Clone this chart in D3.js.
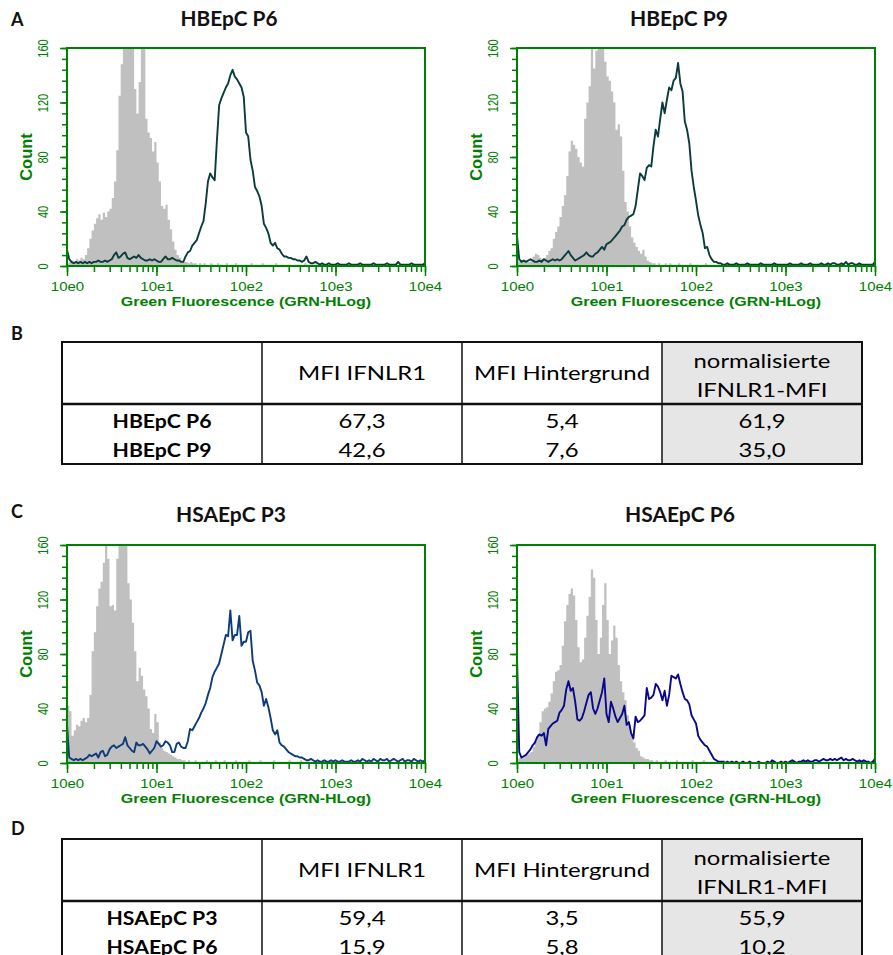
<!DOCTYPE html>
<html>
<head>
<meta charset="utf-8">
<script src="https://cdn.jsdelivr.net/npm/d3@7.9.0/dist/d3.min.js"></script>
<style>
  body { margin: 0; background: #fff; }
  svg { display: block; }
</style>
</head>
<body>
<svg id="fig" width="893" height="955"></svg>
<script>
// ---- data ----
// each histogram: counts per channel, channel i sits at 10^(i*channelStep)
const channelStep = 0.025;
const xDecades = [1, 10, 100, 1000, 10000];
const xTickLabels = ['10e0', '10e1', '10e2', '10e3', '10e4'];
const yTickValues = [0, 40, 80, 120, 160];
const yMinorStep = 8;
const panelTitles = ['HBEpC P6', 'HBEpC P9', 'HSAEpC P3', 'HSAEpC P6'];

const hbepcP6Grey = [
  2,3,4,3,5,4,6,5,8,13,20,26,31,35,38,34,39,36,40,42,
  50,62,85,125,148,165,175,180,175,160,130,112,135,168,175,108,98,94,84,91,
  76,62,44,42,45,34,27,18,12,8,6,4,3,3,2,3,2,2,1,2,
  1,2,1,1,2,1,1,2,1,1,1,2,1,1,1,2,1,1,1,1,
  1,1,2,1,1,1,1,2,1,1,1,1,1,2,1,1,1,1,1,1,
  1,1,1,1,1,1,2,1,1,1,1,1,1,1,1,1,0,1,1,0,
  1,0,1,1,0,1,0,1,0,1,1,0,1,0,0,1,0,1,0,0,
  0,1,0,0,1,0,0,0,1,0,0,1,0,0,0,1,0,0,0,0,
  0];
const hbepcP6Line = [
  12,5,3,2,3,2,3,2,3,2,3,2,3,3,4,3,3,4,3,4,
  5,8,10,6,7,9,10,6,5,6,7,6,8,6,5,4,4,5,4,5,
  4,3,3,5,7,5,5,6,5,4,4,3,3,7,10,11,15,17,19,24,
  29,33,46,62,68,65,63,92,118,123,127,131,134,140,144,139,137,134,131,124,
  98,95,78,70,58,55,51,44,31,28,24,17,15,17,13,12,9,7,7,6,
  6,5,5,4,4,3,4,7,3,2,2,3,2,1,2,1,1,2,1,1,
  1,2,1,1,1,1,2,1,1,1,1,2,1,1,1,1,1,2,1,1,
  1,1,1,2,1,1,1,1,3,1,1,1,1,1,2,1,1,1,1,1,
  2];

const hbepcP9Grey = [
  4,3,3,3,4,3,5,7,9,8,6,5,6,8,11,13,20,25,29,36,
  44,52,66,84,92,89,86,80,76,73,108,120,132,168,145,158,172,175,168,150,
  139,136,128,120,100,104,95,70,47,40,29,21,17,14,11,9,12,7,4,3,
  2,2,1,2,1,1,2,1,2,1,1,1,2,1,1,1,1,2,1,1,
  1,1,1,1,2,1,1,1,1,1,0,1,1,0,1,1,0,1,0,1,
  0,1,0,1,0,0,1,0,0,1,0,0,1,0,0,0,1,0,0,0,
  0,0,1,0,0,0,0,1,0,0,0,0,0,1,0,0,0,0,0,0,
  0,0,0,0,1,0,0,0,0,0,0,0,0,0,0,0,0,0,0,0,
  0];
const hbepcP9Line = [
  22,5,3,4,3,4,5,4,3,3,4,3,5,4,3,4,5,4,5,4,
  5,7,9,11,8,6,4,5,6,7,8,10,8,7,7,9,10,12,14,12,
  16,17,18,20,22,24,26,29,30,34,36,37,38,44,56,68,66,63,72,74,
  73,88,100,95,108,120,112,122,131,129,136,138,149,134,128,106,100,90,70,58,
  48,37,30,24,13,14,8,5,3,3,2,2,1,1,2,1,1,1,2,1,
  1,1,1,2,1,1,1,1,1,2,1,1,1,1,1,2,1,1,1,1,
  1,1,2,1,1,1,1,2,1,1,1,2,1,1,1,1,2,1,1,2,
  1,2,2,1,1,2,1,3,1,2,2,1,1,2,1,1,1,1,1,1,
  3];

const hsaepcP3Grey = [
  42,38,20,24,28,27,31,33,30,33,50,82,96,115,128,133,147,168,150,115,
  116,112,150,170,178,172,165,132,120,103,82,60,70,64,54,49,40,25,22,36,
  30,15,11,9,8,7,6,5,4,3,3,2,2,1,2,1,1,2,1,1,
  1,1,2,1,1,1,2,1,1,1,2,1,1,1,1,2,1,1,1,1,
  1,2,1,1,1,1,2,1,1,1,1,1,2,1,1,1,1,1,1,2,
  1,1,1,1,2,1,1,1,1,1,1,1,1,1,2,1,1,1,1,1,
  1,0,1,1,0,1,1,0,1,0,1,1,0,1,0,1,0,1,1,0,
  0,1,0,1,0,1,0,0,1,0,1,0,0,1,0,0,1,0,0,0,
  0];
const hsaepcP3Line = [
  28,4,3,2,3,2,3,2,3,4,6,5,6,7,4,8,9,5,6,10,
  12,13,11,12,13,14,19,13,11,9,8,15,13,13,14,12,10,7,9,11,
  16,14,12,13,16,15,13,8,8,14,15,12,11,11,16,25,24,27,30,33,
  37,40,44,50,55,63,67,70,73,80,87,94,93,112,90,94,94,108,86,89,
  89,96,97,75,68,59,57,52,42,47,41,33,24,21,24,15,13,12,10,8,
  7,6,5,5,4,4,3,2,2,3,2,1,2,1,1,2,1,1,2,1,
  2,1,1,2,1,1,1,2,1,1,2,1,3,2,1,2,1,3,2,1,
  3,2,2,3,1,2,3,2,1,2,3,1,2,2,1,3,2,1,2,1,
  2];

const hsaepcP6Grey = [
  3,4,4,5,6,7,8,12,16,21,30,38,40,41,45,51,60,67,68,72,
  86,104,116,124,128,123,105,85,74,76,92,108,122,142,136,105,80,92,116,132,
  105,80,90,101,92,72,60,52,46,35,28,20,15,11,9,5,4,3,3,2,
  2,1,2,1,1,1,2,1,1,1,1,2,1,1,1,1,1,1,2,1,
  1,1,1,2,1,1,1,1,1,1,1,1,2,1,1,1,1,1,1,1,
  1,0,1,1,0,1,0,1,0,1,0,1,0,0,1,0,1,0,0,1,
  0,1,0,0,1,0,0,1,0,0,0,1,0,0,0,1,0,0,0,0,
  0,0,1,0,0,0,0,1,0,0,0,0,0,0,1,0,0,0,0,0,
  0];
const hsaepcP6Line = [
  78,8,4,5,6,8,10,13,15,19,21,20,22,13,25,27,29,30,31,37,
  39,42,54,60,53,55,45,32,31,33,38,44,50,52,40,36,40,46,52,62,
  36,30,45,40,34,30,33,36,42,28,30,22,18,34,30,31,33,35,55,47,
  48,50,58,56,52,46,53,42,50,64,63,62,65,58,52,47,46,43,35,32,
  29,20,17,15,13,12,9,6,3,2,1,1,1,0,1,0,1,0,1,0,
  0,1,0,0,1,0,0,0,1,0,0,0,1,0,2,1,0,0,1,0,
  1,0,1,2,1,0,1,1,2,1,2,1,1,2,2,1,2,3,2,2,
  3,2,3,2,3,4,2,3,2,2,3,2,1,2,1,2,1,1,0,1,
  3];

// tables
const tableHeaders = ['', 'MFI IFNLR1', 'MFI Hintergrund', ['normalisierte', 'IFNLR1-MFI']];
const tableBSamples = ['HBEpC P6', 'HBEpC P9'];
const tableBMfi = [67.3, 42.6];
const tableBBackground = [5.4, 7.6];
const tableBNormalized = [61.9, 35.0];
const tableDSamples = ['HSAEpC P3', 'HSAEpC P6'];
const tableDMfi = [59.4, 15.9];
const tableDBackground = [3.5, 5.8];
const tableDNormalized = [55.9, 10.2];

// ---- drawing ----
const svg = d3.select('#fig');
const green = '#008000';
const greyFill = '#c0c0c0';
const axisFont = '"Liberation Sans", Arial, sans-serif';
const textFont = 'Lato, "Open Sans", sans-serif';
const plotW = 358, plotH = 218;
const sx = 1.25; // the figure is stretched horizontally

function fitWidth(sel, x, y, target) {
  const len = sel.node().getComputedTextLength();
  sel.attr('transform', `translate(${x},${y}) scale(${target / len},1)`);
}

// width of a probe string, used to set a horizontal stretch per text style
function probeScale(txt, weight, size, target) {
  const probe = svg.append('text').attr('font-family', textFont)
    .attr('font-weight', weight).attr('font-size', size).text(txt);
  const s = target / probe.node().getComputedTextLength();
  probe.remove();
  return s;
}

function drawPanel(p) {
  const g = svg.append('g').attr('transform', `translate(${p.x},${p.y})`);
  const x = d3.scaleLog().domain([1, 10000]).range([0, plotW]);
  const y = d3.scaleLinear().domain([0, 160]).range([plotH, 0]);

  g.append('clipPath').attr('id', 'clip' + p.id)
    .append('rect').attr('width', plotW).attr('height', plotH);

  const toPoints = arr => arr.map((c, i) => ({ v: Math.pow(10, i * channelStep), c }));

  // background control (grey fill)
  g.append('path')
    .datum(toPoints(p.grey))
    .attr('clip-path', `url(#clip${p.id})`)
    .attr('fill', greyFill)
    .attr('d', d3.area().x(d => x(d.v)).y0(plotH).y1(d => y(d.c)).curve(d3.curveStepAfter));

  // stained sample (line)
  g.append('path')
    .datum(toPoints(p.line))
    .attr('clip-path', `url(#clip${p.id})`)
    .attr('fill', 'none')
    .attr('stroke', p.color)
    .attr('stroke-width', 1.9)
    .attr('stroke-linejoin', 'round')
    .attr('d', d3.line().x(d => x(d.v)).y(d => y(d.c)));

  // frame
  g.append('rect').attr('width', plotW).attr('height', plotH)
    .attr('fill', 'none').attr('stroke', green).attr('stroke-width', 2);

  const styleTicks = a => {
    a.select('.domain').remove();
    a.selectAll('line').attr('stroke', green).attr('stroke-width', 1.5);
  };

  // x axis: minor + major ticks
  g.append('g').attr('transform', `translate(0,${plotH})`)
    .call(d3.axisBottom(x).tickValues(x.ticks()).tickSize(6).tickFormat(''))
    .call(styleTicks);
  g.append('g').attr('transform', `translate(0,${plotH})`)
    .call(d3.axisBottom(x).tickValues(xDecades).tickSize(10)
      .tickFormat(d => xTickLabels[xDecades.indexOf(d)]))
    .call(styleTicks)
    .call(a => a.selectAll('text')
      .attr('y', null).attr('dy', null)
      .attr('transform', `translate(0,25) scale(${sx},1)`)
      .attr('fill', green)
      .attr('font-family', axisFont)
      .attr('font-size', 12));

  // y axis: minor + major ticks
  g.append('g')
    .call(d3.axisLeft(y).tickValues(d3.range(0, 161, yMinorStep)).tickSize(5).tickFormat(''))
    .call(styleTicks);
  g.append('g')
    .call(d3.axisLeft(y).tickValues(yTickValues).tickSize(7))
    .call(styleTicks)
    .call(a => a.selectAll('text')
      .attr('x', null).attr('dy', null)
      .attr('text-anchor', 'middle')
      .attr('transform', `translate(-19,0) scale(${sx},1) rotate(-90)`)
      .attr('fill', green)
      .attr('font-family', axisFont)
      .attr('font-size', 11));

  // axis titles
  g.append('text')
    .attr('text-anchor', 'middle')
    .attr('transform', `translate(${plotW / 2},${plotH + 40}) scale(1.23,1)`)
    .attr('fill', green).attr('font-family', axisFont)
    .attr('font-size', 13).attr('font-weight', 'bold')
    .text('Green Fluorescence (GRN-HLog)');
  g.append('text')
    .attr('text-anchor', 'middle')
    .attr('transform', `translate(-35,${plotH / 2}) rotate(-90)`)
    .attr('fill', green).attr('font-family', axisFont)
    .attr('font-size', 16.5).attr('font-weight', 'bold')
    .text('Count');

  // panel title
  const t = svg.append('text')
    .attr('text-anchor', 'middle')
    .attr('font-family', textFont).attr('font-weight', 'bold')
    .attr('font-size', 20).attr('fill', '#111')
    .text(p.title);
  fitWidth(t, p.titleX, p.titleY, p.titleW);
}

const panels = [
  { id: 0, x: 67,  y: 48,  grey: hbepcP6Grey,  line: hbepcP6Line,  color: '#0b3c3c', title: panelTitles[0], titleX: 229, titleY: 26,  titleW: 97 },
  { id: 1, x: 517, y: 48,  grey: hbepcP9Grey,  line: hbepcP9Line,  color: '#0b3c3c', title: panelTitles[1], titleX: 679, titleY: 26,  titleW: 98 },
  { id: 2, x: 67,  y: 545, grey: hsaepcP3Grey, line: hsaepcP3Line, color: '#0c3c7c', title: panelTitles[2], titleX: 231, titleY: 522, titleW: 110 },
  { id: 3, x: 517, y: 545, grey: hsaepcP6Grey, line: hsaepcP6Line, color: '#08088c', title: panelTitles[3], titleX: 680, titleY: 522, titleW: 110 }
];
panels.forEach(drawPanel);

// panel letters
[['A', 26], ['B', 340], ['C', 518], ['D', 835]].forEach(([l, yy]) => {
  svg.append('text').attr('x', 11).attr('y', yy)
    .attr('font-family', textFont).attr('font-weight', 'bold')
    .attr('font-size', 18).attr('fill', '#111').text(l);
});

// ---- tables ----
const fmt = v => d3.format('.1f')(v).replace('.', ',');
const colX = [62, 262, 462, 662, 862];
const tableFontSize = 19.5;
const regularScale = probeScale('normalisierte', 'normal', tableFontSize, 137);
const boldScale = probeScale('HBEpC P6', 'bold', tableFontSize, 99);

function drawTable(top, samples, mfi, bg, norm) {
  const headH = 62, bottom = top + headH + 60;
  const g = svg.append('g');
  g.append('rect').attr('x', colX[3]).attr('y', top)
    .attr('width', colX[4] - colX[3]).attr('height', bottom - top).attr('fill', '#e7e6e6');

  const addText = (txt, col, y, bold) => {
    const cx = (colX[col] + colX[col + 1]) / 2;
    g.append('text').attr('text-anchor', 'middle')
      .attr('font-family', textFont).attr('font-size', tableFontSize)
      .attr('font-weight', bold ? 'bold' : 'normal').attr('fill', '#000')
      .attr('transform', `translate(${cx},${y}) scale(${bold ? boldScale : regularScale},1)`)
      .text(txt);
  };

  tableHeaders.forEach((h, i) => {
    if (Array.isArray(h)) {
      addText(h[0], i, top + 26, false);
      addText(h[1], i, top + 55, false);
    } else if (h) {
      addText(h, i, top + 38, false);
    }
  });
  samples.forEach((s, r) => {
    const yy = top + headH + 24 + r * 29;
    addText(s, 0, yy, true);
    addText(fmt(mfi[r]), 1, yy, false);
    addText(fmt(bg[r]), 2, yy, false);
    addText(fmt(norm[r]), 3, yy, false);
  });

  // grid lines
  colX.slice(1, 4).forEach(cx => {
    g.append('line').attr('x1', cx).attr('x2', cx).attr('y1', top).attr('y2', bottom)
      .attr('stroke', '#111').attr('stroke-width', 1.5);
  });
  g.append('line').attr('x1', colX[0]).attr('x2', colX[4])
    .attr('y1', top + headH).attr('y2', top + headH)
    .attr('stroke', '#111').attr('stroke-width', 2.4);
  g.append('rect').attr('x', colX[0]).attr('y', top)
    .attr('width', colX[4] - colX[0]).attr('height', bottom - top)
    .attr('fill', 'none').attr('stroke', '#111').attr('stroke-width', 2);
}

drawTable(342, tableBSamples, tableBMfi, tableBBackground, tableBNormalized);
drawTable(839, tableDSamples, tableDMfi, tableDBackground, tableDNormalized);
</script>
</body>
</html>
